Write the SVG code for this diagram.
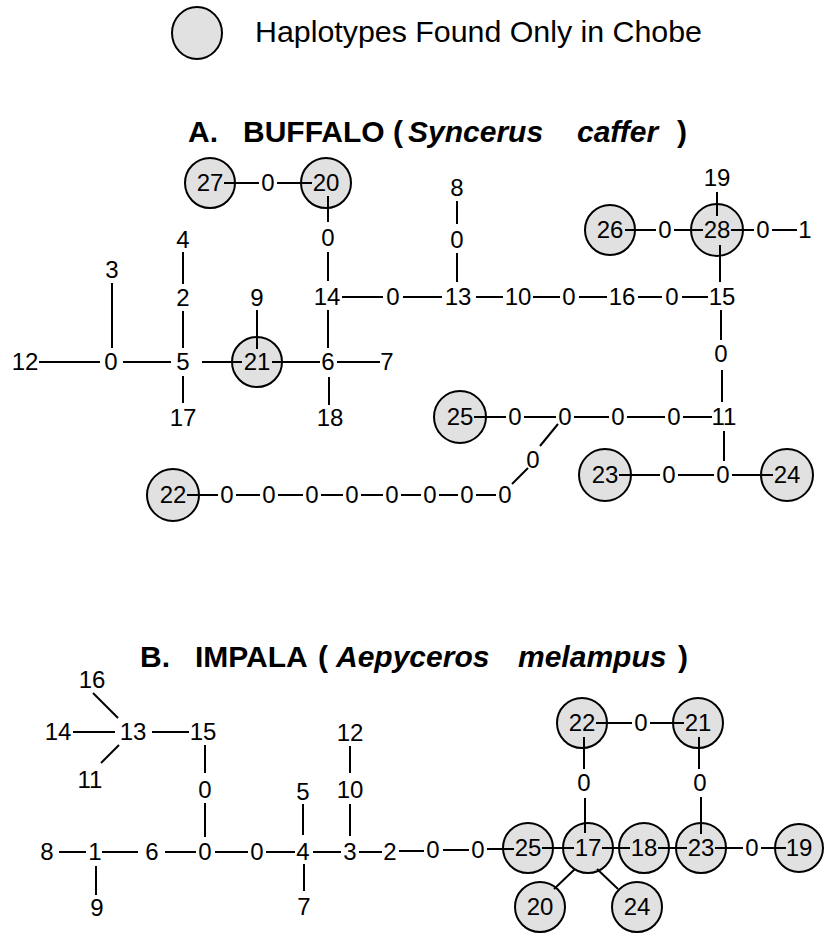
<svg xmlns="http://www.w3.org/2000/svg" width="824" height="933" viewBox="0 0 824 933">
<style>
.n{font-family:"Liberation Sans",Arial,sans-serif;font-size:24px;text-anchor:middle;fill:#000}
.h{fill:#e1e1e1;stroke:#000;stroke-width:2}
.c line{stroke:#000;stroke-width:2}
.t{font-family:"Liberation Sans",Arial,sans-serif;font-weight:bold;font-size:30px;fill:#000}
.t .i{font-style:italic}
.lg{font-family:"Liberation Sans",Arial,sans-serif;font-size:30px;fill:#000}
</style>
<rect width="824" height="933" fill="#fff"/>
<g id="legend">
<ellipse class="h" cx="197" cy="33" rx="25" ry="26"/>
<text class="lg" x="255" y="42" textLength="447" lengthAdjust="spacingAndGlyphs">Haplotypes Found Only in Chobe</text>
</g>
<g id="titleA"><text class="t" y="142"><tspan x="188">A.</tspan><tspan x="243">BUFFALO</tspan><tspan x="393">(</tspan><tspan class="i" x="408">Syncerus</tspan><tspan class="i" x="577">caffer</tspan><tspan x="677">)</tspan></text></g>
<g id="titleB"><text class="t" y="667"><tspan x="140">B.</tspan><tspan x="195">IMPALA</tspan><tspan x="318">(</tspan><tspan class="i" x="336">Aepyceros</tspan><tspan class="i" x="518">melampus</tspan><tspan x="678">)</tspan></text></g>

<!-- Buffalo nodes -->
<g id="A-h27"><circle class="h" cx="210" cy="183" r="25"/><text class="n" x="210" y="191">27</text></g>
<g id="A-m1"><text class="n" x="268" y="191">0</text></g>
<g id="A-h20"><circle class="h" cx="326" cy="183" r="25"/><text class="n" x="326" y="191">20</text></g>
<g id="A-m2"><text class="n" x="328" y="246">0</text></g>
<g id="A-14"><text class="n" x="327" y="305">14</text></g>
<g id="A-m3"><text class="n" x="393" y="305">0</text></g>
<g id="A-13"><text class="n" x="458" y="305">13</text></g>
<g id="A-8"><text class="n" x="457" y="196">8</text></g>
<g id="A-m4"><text class="n" x="457" y="248">0</text></g>
<g id="A-10"><text class="n" x="518" y="305">10</text></g>
<g id="A-m5"><text class="n" x="569" y="305">0</text></g>
<g id="A-16"><text class="n" x="622" y="305">16</text></g>
<g id="A-m6"><text class="n" x="672" y="305">0</text></g>
<g id="A-15"><text class="n" x="722" y="305">15</text></g>
<g id="A-h28"><circle class="h" cx="717" cy="230" r="26"/><text class="n" x="717" y="238">28</text></g>
<g id="A-19"><text class="n" x="717" y="186">19</text></g>
<g id="A-h26"><circle class="h" cx="610" cy="230" r="25"/><text class="n" x="610" y="238">26</text></g>
<g id="A-m7"><text class="n" x="665" y="238">0</text></g>
<g id="A-m8"><text class="n" x="763" y="238">0</text></g>
<g id="A-1"><text class="n" x="805" y="238">1</text></g>
<g id="A-m9"><text class="n" x="721" y="362">0</text></g>
<g id="A-11"><text class="n" x="724" y="425">11</text></g>
<g id="A-h25"><circle class="h" cx="460" cy="417" r="26"/><text class="n" x="460" y="425">25</text></g>
<g id="A-m10"><text class="n" x="515" y="425">0</text></g>
<g id="A-m11"><text class="n" x="565" y="425">0</text></g>
<g id="A-m12"><text class="n" x="618" y="425">0</text></g>
<g id="A-m13"><text class="n" x="674" y="425">0</text></g>
<g id="A-m14"><text class="n" x="723" y="483">0</text></g>
<g id="A-h23"><circle class="h" cx="605" cy="475" r="26"/><text class="n" x="605" y="483">23</text></g>
<g id="A-m15"><text class="n" x="669" y="483">0</text></g>
<g id="A-h24"><circle class="h" cx="787" cy="475" r="26"/><text class="n" x="787" y="483">24</text></g>
<g id="A-m16"><text class="n" x="533" y="468">0</text></g>
<g id="A-m17"><text class="n" x="505" y="503">0</text></g>
<g id="A-m18"><text class="n" x="467" y="503">0</text></g>
<g id="A-m19"><text class="n" x="430" y="503">0</text></g>
<g id="A-m20"><text class="n" x="392" y="503">0</text></g>
<g id="A-m21"><text class="n" x="352" y="503">0</text></g>
<g id="A-m22"><text class="n" x="312" y="503">0</text></g>
<g id="A-m23"><text class="n" x="269" y="503">0</text></g>
<g id="A-m24"><text class="n" x="227" y="503">0</text></g>
<g id="A-h22"><circle class="h" cx="173" cy="495" r="26"/><text class="n" x="173" y="503">22</text></g>
<g id="A-3"><text class="n" x="112" y="278">3</text></g>
<g id="A-m25"><text class="n" x="111" y="370">0</text></g>
<g id="A-12"><text class="n" x="25" y="370">12</text></g>
<g id="A-5"><text class="n" x="183" y="370">5</text></g>
<g id="A-4"><text class="n" x="183" y="248">4</text></g>
<g id="A-2"><text class="n" x="183" y="306">2</text></g>
<g id="A-17"><text class="n" x="183" y="426">17</text></g>
<g id="A-h21"><circle class="h" cx="257" cy="362" r="25"/><text class="n" x="257" y="370">21</text></g>
<g id="A-9"><text class="n" x="257" y="306">9</text></g>
<g id="A-6"><text class="n" x="328" y="370">6</text></g>
<g id="A-7"><text class="n" x="387" y="370">7</text></g>
<g id="A-18"><text class="n" x="330" y="426">18</text></g>

<!-- Impala nodes -->
<g id="B-16"><text class="n" x="92" y="688">16</text></g>
<g id="B-13"><text class="n" x="133" y="740">13</text></g>
<g id="B-14"><text class="n" x="58" y="740">14</text></g>
<g id="B-11"><text class="n" x="90" y="788">11</text></g>
<g id="B-15"><text class="n" x="203" y="740">15</text></g>
<g id="B-m1"><text class="n" x="205" y="798">0</text></g>
<g id="B-m2"><text class="n" x="205" y="860">0</text></g>
<g id="B-8"><text class="n" x="47" y="860">8</text></g>
<g id="B-1"><text class="n" x="95" y="860">1</text></g>
<g id="B-6"><text class="n" x="152" y="860">6</text></g>
<g id="B-9"><text class="n" x="97" y="916">9</text></g>
<g id="B-m3"><text class="n" x="257" y="860">0</text></g>
<g id="B-4"><text class="n" x="303" y="860">4</text></g>
<g id="B-5"><text class="n" x="303" y="800">5</text></g>
<g id="B-7"><text class="n" x="304" y="915">7</text></g>
<g id="B-3"><text class="n" x="350" y="860">3</text></g>
<g id="B-10"><text class="n" x="350" y="798">10</text></g>
<g id="B-12"><text class="n" x="350" y="741">12</text></g>
<g id="B-2"><text class="n" x="390" y="860">2</text></g>
<g id="B-m4"><text class="n" x="433" y="858">0</text></g>
<g id="B-m5"><text class="n" x="478" y="858">0</text></g>
<g id="B-h25"><circle class="h" cx="528" cy="848" r="25"/><text class="n" x="528" y="856">25</text></g>
<g id="B-h17"><circle class="h" cx="588" cy="848" r="25"/><text class="n" x="588" y="856">17</text></g>
<g id="B-h18"><circle class="h" cx="644" cy="848" r="25"/><text class="n" x="644" y="856">18</text></g>
<g id="B-h23"><circle class="h" cx="701" cy="848" r="25"/><text class="n" x="701" y="856">23</text></g>
<g id="B-m6"><text class="n" x="752" y="856">0</text></g>
<g id="B-h19"><circle class="h" cx="799" cy="848" r="24"/><text class="n" x="799" y="856">19</text></g>
<g id="B-h22"><circle class="h" cx="582" cy="723" r="25"/><text class="n" x="582" y="731">22</text></g>
<g id="B-m7"><text class="n" x="641" y="731">0</text></g>
<g id="B-h21"><circle class="h" cx="698" cy="723" r="25"/><text class="n" x="698" y="731">21</text></g>
<g id="B-m8"><text class="n" x="584" y="791">0</text></g>
<g id="B-m9"><text class="n" x="700" y="791">0</text></g>
<g id="B-h20"><circle class="h" cx="540" cy="907" r="25"/><text class="n" x="540" y="915">20</text></g>
<g id="B-h24"><circle class="h" cx="637" cy="907" r="25"/><text class="n" x="637" y="915">24</text></g>

<g class="c" id="connectors">
<line x1="224" y1="183" x2="259" y2="183"/>
<line x1="277" y1="183" x2="312" y2="183"/>
<line x1="328" y1="196" x2="328" y2="222"/>
<line x1="328" y1="252" x2="328" y2="281"/>
<line x1="342" y1="297" x2="383" y2="297"/>
<line x1="403" y1="297" x2="442" y2="297"/>
<line x1="457" y1="201" x2="457" y2="224"/>
<line x1="457" y1="253" x2="457" y2="282"/>
<line x1="476" y1="297" x2="503" y2="297"/>
<line x1="533" y1="297" x2="560" y2="297"/>
<line x1="579" y1="297" x2="607" y2="297"/>
<line x1="638" y1="297" x2="662" y2="297"/>
<line x1="682" y1="297" x2="708" y2="297"/>
<line x1="717" y1="192" x2="717" y2="216"/>
<line x1="625" y1="230" x2="656" y2="230"/>
<line x1="674" y1="230" x2="703" y2="230"/>
<line x1="731" y1="230" x2="754" y2="230"/>
<line x1="772" y1="230" x2="797" y2="230"/>
<line x1="720" y1="245" x2="720" y2="282"/>
<line x1="721" y1="310" x2="721" y2="340"/>
<line x1="722" y1="370" x2="722" y2="402"/>
<line x1="474" y1="417" x2="506" y2="417"/>
<line x1="524" y1="417" x2="556" y2="417"/>
<line x1="574" y1="417" x2="609" y2="417"/>
<line x1="627" y1="417" x2="665" y2="417"/>
<line x1="683" y1="417" x2="712" y2="417"/>
<line x1="724" y1="431" x2="724" y2="461"/>
<line x1="619" y1="475" x2="660" y2="475"/>
<line x1="678" y1="475" x2="714" y2="475"/>
<line x1="732" y1="475" x2="773" y2="475"/>
<line x1="558" y1="424" x2="540" y2="446"/>
<line x1="528" y1="468" x2="512" y2="484"/>
<line x1="187" y1="495" x2="218" y2="495"/>
<line x1="236" y1="495" x2="260" y2="495"/>
<line x1="278" y1="495" x2="303" y2="495"/>
<line x1="321" y1="495" x2="343" y2="495"/>
<line x1="361" y1="495" x2="383" y2="495"/>
<line x1="401" y1="495" x2="421" y2="495"/>
<line x1="439" y1="495" x2="458" y2="495"/>
<line x1="476" y1="495" x2="496" y2="495"/>
<line x1="112" y1="283" x2="112" y2="348"/>
<line x1="39" y1="362" x2="100" y2="362"/>
<line x1="123" y1="362" x2="171" y2="362"/>
<line x1="183" y1="252" x2="183" y2="284"/>
<line x1="183" y1="311" x2="183" y2="348"/>
<line x1="183" y1="376" x2="183" y2="403"/>
<line x1="202" y1="362" x2="242" y2="362"/>
<line x1="257" y1="310" x2="257" y2="349"/>
<line x1="272" y1="362" x2="320" y2="362"/>
<line x1="337" y1="362" x2="380" y2="362"/>
<line x1="329" y1="377" x2="329" y2="405"/>
<line x1="328" y1="310" x2="328" y2="348"/>
<line x1="93" y1="693" x2="118" y2="718"/>
<line x1="73" y1="732" x2="115" y2="732"/>
<line x1="119" y1="745" x2="101" y2="763"/>
<line x1="152" y1="732" x2="189" y2="732"/>
<line x1="205" y1="745" x2="205" y2="773"/>
<line x1="205" y1="803" x2="205" y2="837"/>
<line x1="59" y1="852" x2="86" y2="852"/>
<line x1="102" y1="852" x2="138" y2="852"/>
<line x1="165" y1="852" x2="196" y2="852"/>
<line x1="96" y1="866" x2="96" y2="895"/>
<line x1="215" y1="852" x2="248" y2="852"/>
<line x1="266" y1="852" x2="295" y2="852"/>
<line x1="303" y1="804" x2="303" y2="835"/>
<line x1="304" y1="864" x2="304" y2="891"/>
<line x1="313" y1="852" x2="341" y2="852"/>
<line x1="350" y1="804" x2="350" y2="836"/>
<line x1="350" y1="746" x2="350" y2="773"/>
<line x1="359" y1="852" x2="382" y2="852"/>
<line x1="399" y1="851" x2="424" y2="851"/>
<line x1="443" y1="850" x2="469" y2="850"/>
<line x1="487" y1="849" x2="514" y2="849"/>
<line x1="542" y1="848" x2="574" y2="848"/>
<line x1="602" y1="848" x2="630" y2="848"/>
<line x1="658" y1="848" x2="687" y2="848"/>
<line x1="715" y1="848" x2="743" y2="848"/>
<line x1="761" y1="848" x2="786" y2="848"/>
<line x1="596" y1="723" x2="632" y2="723"/>
<line x1="650" y1="723" x2="684" y2="723"/>
<line x1="584" y1="737" x2="584" y2="769"/>
<line x1="585" y1="798" x2="585" y2="833"/>
<line x1="699" y1="737" x2="699" y2="769"/>
<line x1="701" y1="797" x2="701" y2="834"/>
<line x1="575" y1="869" x2="554" y2="889"/>
<line x1="597" y1="869" x2="618" y2="889"/>
</g>
</svg>
